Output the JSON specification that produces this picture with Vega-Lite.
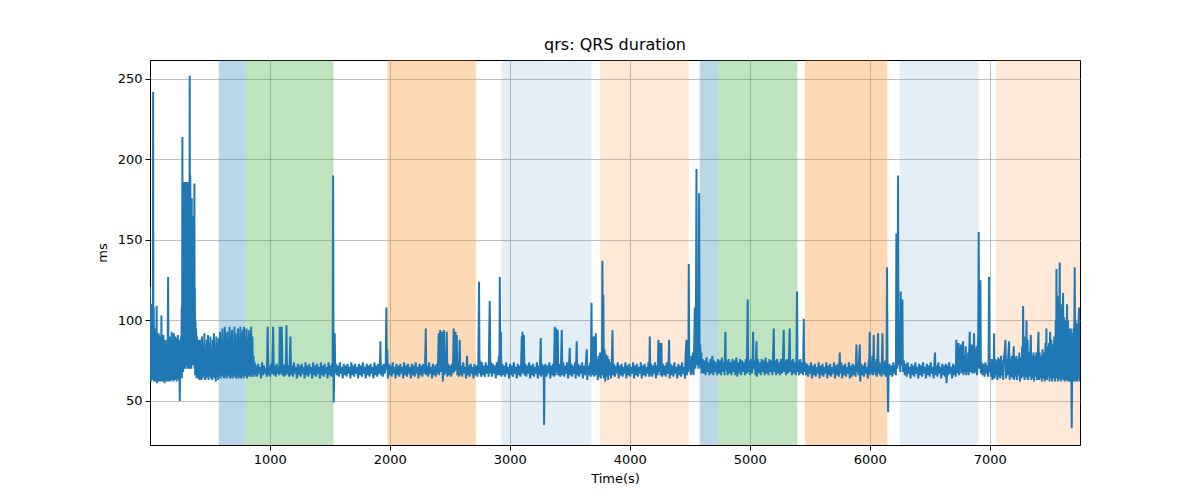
{
  "$schema": "https://vega.github.io/schema/vega-lite/v6.json",
  "width": 930,
  "height": 385,
  "autosize": "none",
  "padding": {"left": 150, "top": 60, "right": 120, "bottom": 55},
  "background": "white",
  "config": {
    "font": "DejaVu Sans",
    "view": {"stroke": "black", "strokeWidth": 1},
    "axis": {
      "labelFont": "DejaVu Sans", "labelFontSize": 13, "labelColor": "black",
      "titleFont": "DejaVu Sans", "titleFontSize": 13, "titleFontWeight": "normal", "titleColor": "black",
      "tickColor": "black", "tickSize": 5, "domainColor": "black",
      "gridColor": "#b0b0b0", "gridWidth": 0.8, "labelPadding": 3
    }
  },
  "title": {"text": "qrs: QRS duration", "fontSize": 16, "fontWeight": "normal", "font": "DejaVu Sans", "color": "black", "offset": 7, "anchor": "middle"},
  "layer": [
    {
      "data": {"values": [
        {"start": 575, "end": 794, "kind": "blue"},
        {"start": 794, "end": 1531, "kind": "green"},
        {"start": 1981, "end": 2717, "kind": "orange"},
        {"start": 2933, "end": 3681, "kind": "lightblue"},
        {"start": 3750, "end": 4492, "kind": "lightorange"},
        {"start": 4583, "end": 4736, "kind": "blue"},
        {"start": 4736, "end": 5397, "kind": "green"},
        {"start": 5458, "end": 6147, "kind": "orange"},
        {"start": 6250, "end": 6906, "kind": "lightblue"},
        {"start": 7050, "end": 7760, "kind": "lightorange"}
      ]},
      "mark": {"type": "rect", "clip": true, "strokeWidth": 0},
      "encoding": {
        "x": {"field": "start", "type": "quantitative"},
        "x2": {"field": "end"},
        "color": {"field": "kind", "type": "nominal", "legend": null,
          "scale": {"domain": ["blue", "green", "orange", "lightblue", "lightorange"],
                    "range": ["rgba(31,119,180,0.3)", "rgba(44,160,44,0.3)", "rgba(255,127,14,0.3)", "rgba(31,119,180,0.12)", "rgba(255,127,14,0.17)"]}}
      }
    },
    {
      "data": {"values": [
        {"t":0,"v":121},{"t":3,"v":64},{"t":6,"v":100},{"t":9,"v":62},{"t":12,"v":90},{"t":15,"v":63},{"t":18,"v":110},{"t":21,"v":65},{"t":24,"v":95},{"t":26,"v":64},{"t":28,"v":242},{"t":30,"v":63},{"t":33,"v":108},{"t":36,"v":62},{"t":39,"v":88},{"t":42,"v":64},{"t":45,"v":95},{"t":48,"v":62},{"t":51,"v":80},{"t":54,"v":64},{"t":57,"v":109},{"t":60,"v":61},{"t":63,"v":85},{"t":66,"v":64},{"t":69,"v":88},{"t":72,"v":62},{"t":75,"v":92},{"t":78,"v":65},{"t":81,"v":78},{"t":84,"v":62},{"t":87,"v":90},{"t":90,"v":64},{"t":93,"v":84},{"t":95,"v":63},{"t":97,"v":103},{"t":99,"v":62},{"t":102,"v":86},{"t":105,"v":65},{"t":108,"v":80},{"t":111,"v":62},{"t":114,"v":91},{"t":117,"v":64},{"t":120,"v":76},{"t":123,"v":61},{"t":126,"v":86},{"t":129,"v":64},{"t":132,"v":88},{"t":135,"v":63},{"t":138,"v":79},{"t":141,"v":62},{"t":144,"v":82},{"t":147,"v":65},{"t":150,"v":90},{"t":153,"v":127},{"t":156,"v":62},{"t":159,"v":86},{"t":162,"v":64},{"t":165,"v":90},{"t":168,"v":63},{"t":171,"v":84},{"t":174,"v":62},{"t":177,"v":88},{"t":180,"v":65},{"t":183,"v":93},{"t":186,"v":63},{"t":189,"v":82},{"t":192,"v":65},{"t":195,"v":88},{"t":198,"v":62},{"t":201,"v":92},{"t":204,"v":66},{"t":207,"v":84},{"t":210,"v":63},{"t":213,"v":90},{"t":216,"v":64},{"t":219,"v":80},{"t":222,"v":89},{"t":225,"v":62},{"t":228,"v":86},{"t":231,"v":65},{"t":234,"v":91},{"t":237,"v":64},{"t":240,"v":84},{"t":243,"v":63},{"t":246,"v":88},{"t":248,"v":66},{"t":250,"v":50},{"t":252,"v":65},{"t":255,"v":85},{"t":258,"v":64},{"t":261,"v":90},{"t":264,"v":66},{"t":266,"v":108},{"t":268,"v":64},{"t":270,"v":100},{"t":272,"v":214},{"t":274,"v":70},{"t":276,"v":150},{"t":278,"v":68},{"t":280,"v":170},{"t":282,"v":72},{"t":284,"v":160},{"t":286,"v":70},{"t":288,"v":186},{"t":290,"v":74},{"t":292,"v":150},{"t":294,"v":72},{"t":296,"v":180},{"t":298,"v":70},{"t":300,"v":165},{"t":302,"v":74},{"t":304,"v":186},{"t":306,"v":72},{"t":308,"v":150},{"t":310,"v":75},{"t":312,"v":172},{"t":314,"v":72},{"t":316,"v":165},{"t":318,"v":70},{"t":320,"v":186},{"t":322,"v":76},{"t":324,"v":150},{"t":326,"v":72},{"t":328,"v":160},{"t":330,"v":70},{"t":333,"v":252},{"t":335,"v":74},{"t":338,"v":190},{"t":340,"v":72},{"t":343,"v":170},{"t":346,"v":70},{"t":350,"v":176},{"t":353,"v":72},{"t":356,"v":150},{"t":358,"v":165},{"t":360,"v":72},{"t":363,"v":140},{"t":366,"v":150},{"t":368,"v":72},{"t":370,"v":130},{"t":372,"v":185},{"t":374,"v":70},{"t":376,"v":120},{"t":378,"v":66},{"t":381,"v":100},{"t":384,"v":66},{"t":387,"v":95},{"t":390,"v":64},{"t":393,"v":90},{"t":396,"v":66},{"t":399,"v":85},{"t":402,"v":64},{"t":405,"v":88},{"t":408,"v":65},{"t":411,"v":84},{"t":414,"v":63},{"t":417,"v":88},
        {"t":420,"v":65},{"t":425,"v":86},{"t":430,"v":63},{"t":435,"v":90},{"t":440,"v":64},{"t":445,"v":84},{"t":450,"v":66},{"t":455,"v":92},{"t":460,"v":63},{"t":465,"v":80},{"t":470,"v":64},{"t":475,"v":88},{"t":480,"v":65},{"t":485,"v":91},{"t":490,"v":63},{"t":495,"v":86},{"t":500,"v":66},{"t":505,"v":90},{"t":510,"v":64},{"t":515,"v":78},{"t":520,"v":63},{"t":525,"v":88},{"t":530,"v":65},{"t":535,"v":92},{"t":540,"v":64},{"t":545,"v":84},{"t":550,"v":62},{"t":555,"v":90},{"t":560,"v":65},{"t":565,"v":86},{"t":570,"v":63},{"t":575,"v":89},{"t":580,"v":66},{"t":585,"v":93},{"t":590,"v":64},{"t":595,"v":88},{"t":600,"v":66},{"t":605,"v":95},{"t":610,"v":65},{"t":615,"v":84},{"t":620,"v":64},{"t":625,"v":96},{"t":630,"v":66},{"t":635,"v":90},{"t":640,"v":64},{"t":645,"v":93},{"t":650,"v":65},{"t":655,"v":88},{"t":660,"v":66},{"t":665,"v":96},{"t":670,"v":64},{"t":675,"v":90},{"t":680,"v":65},{"t":685,"v":94},{"t":690,"v":64},{"t":695,"v":86},{"t":700,"v":66},{"t":705,"v":96},{"t":710,"v":65},{"t":715,"v":92},{"t":720,"v":64},{"t":725,"v":88},{"t":730,"v":66},{"t":735,"v":95},{"t":740,"v":64},{"t":745,"v":90},{"t":750,"v":65},{"t":755,"v":96},{"t":760,"v":64},{"t":765,"v":92},{"t":770,"v":66},{"t":775,"v":94},{"t":780,"v":64},{"t":785,"v":96},{"t":790,"v":65},{"t":795,"v":90},{"t":800,"v":66},{"t":805,"v":95},{"t":810,"v":64},{"t":815,"v":88},{"t":820,"v":66},{"t":825,"v":94},{"t":830,"v":65},{"t":835,"v":92},{"t":840,"v":66},{"t":845,"v":96},{"t":850,"v":65},{"t":855,"v":90},{"t":860,"v":67},{"t":865,"v":78},{"t":870,"v":65},{"t":875,"v":74},
        {"t":880,"v":66},{"t":888,"v":72},{"t":896,"v":65},{"t":904,"v":73},{"t":912,"v":67},{"t":920,"v":71},{"t":928,"v":64},{"t":936,"v":74},{"t":944,"v":66},{"t":952,"v":72},{"t":960,"v":67},{"t":968,"v":70},{"t":976,"v":65},{"t":983,"v":96},{"t":988,"v":66},{"t":996,"v":72},{"t":1004,"v":65},{"t":1012,"v":73},{"t":1020,"v":67},{"t":1028,"v":96},{"t":1034,"v":66},{"t":1042,"v":72},{"t":1050,"v":65},{"t":1058,"v":73},{"t":1066,"v":67},{"t":1074,"v":71},{"t":1080,"v":66},{"t":1083,"v":96},{"t":1088,"v":67},{"t":1094,"v":73},{"t":1100,"v":96},{"t":1106,"v":66},{"t":1112,"v":72},{"t":1120,"v":65},{"t":1128,"v":73},{"t":1134,"v":66},{"t":1139,"v":97},{"t":1144,"v":67},{"t":1152,"v":72},{"t":1160,"v":65},{"t":1166,"v":73},{"t":1172,"v":90},{"t":1178,"v":66},{"t":1186,"v":72},{"t":1194,"v":65},{"t":1202,"v":74},{"t":1210,"v":67},{"t":1218,"v":71},{"t":1226,"v":64},{"t":1234,"v":73},{"t":1242,"v":66},{"t":1250,"v":72},{"t":1258,"v":65},{"t":1266,"v":73},{"t":1274,"v":67},{"t":1282,"v":71},{"t":1290,"v":64},{"t":1298,"v":74},{"t":1306,"v":66},{"t":1314,"v":72},{"t":1322,"v":65},{"t":1330,"v":73},{"t":1338,"v":67},{"t":1346,"v":71},{"t":1354,"v":64},{"t":1362,"v":74},{"t":1370,"v":66},{"t":1378,"v":72},{"t":1386,"v":65},{"t":1394,"v":73},{"t":1402,"v":67},{"t":1410,"v":71},{"t":1418,"v":64},{"t":1426,"v":74},{"t":1434,"v":66},{"t":1442,"v":72},{"t":1450,"v":65},{"t":1458,"v":73},{"t":1466,"v":67},{"t":1474,"v":71},{"t":1482,"v":64},{"t":1490,"v":74},{"t":1498,"v":66},{"t":1506,"v":72},{"t":1514,"v":65},{"t":1520,"v":73},{"t":1524,"v":68},{"t":1528,"v":190},{"t":1531,"v":70},{"t":1533,"v":49},{"t":1537,"v":68},{"t":1541,"v":92},{"t":1546,"v":67},
        {"t":1552,"v":73},{"t":1560,"v":66},{"t":1568,"v":72},{"t":1576,"v":65},{"t":1584,"v":74},{"t":1592,"v":67},{"t":1600,"v":71},{"t":1608,"v":64},{"t":1616,"v":73},{"t":1624,"v":66},{"t":1632,"v":72},{"t":1640,"v":65},{"t":1648,"v":73},{"t":1656,"v":67},{"t":1664,"v":71},{"t":1672,"v":64},{"t":1680,"v":74},{"t":1688,"v":66},{"t":1696,"v":72},{"t":1704,"v":65},{"t":1712,"v":73},{"t":1720,"v":67},{"t":1728,"v":71},{"t":1736,"v":64},{"t":1744,"v":73},{"t":1752,"v":66},{"t":1760,"v":72},{"t":1768,"v":65},{"t":1776,"v":74},{"t":1784,"v":67},{"t":1792,"v":71},{"t":1800,"v":64},{"t":1808,"v":73},{"t":1816,"v":66},{"t":1824,"v":72},{"t":1832,"v":65},{"t":1840,"v":73},{"t":1848,"v":67},{"t":1856,"v":71},{"t":1864,"v":64},{"t":1872,"v":74},{"t":1880,"v":66},{"t":1888,"v":72},{"t":1896,"v":65},{"t":1904,"v":73},{"t":1912,"v":67},{"t":1918,"v":71},{"t":1922,"v":87},{"t":1926,"v":66},{"t":1934,"v":72},{"t":1942,"v":65},{"t":1950,"v":73},{"t":1958,"v":67},{"t":1966,"v":71},{"t":1972,"v":108},{"t":1976,"v":70},{"t":1980,"v":82},{"t":1984,"v":64},{"t":1992,"v":73},{"t":2000,"v":66},{"t":2008,"v":72},{"t":2016,"v":65},{"t":2024,"v":74},{"t":2032,"v":67},{"t":2040,"v":71},{"t":2048,"v":64},{"t":2056,"v":73},{"t":2064,"v":66},{"t":2072,"v":72},{"t":2080,"v":65},{"t":2088,"v":73},{"t":2096,"v":67},{"t":2104,"v":71},{"t":2112,"v":64},{"t":2120,"v":74},{"t":2128,"v":66},{"t":2136,"v":72},{"t":2144,"v":65},{"t":2152,"v":73},{"t":2160,"v":67},{"t":2168,"v":71},{"t":2176,"v":64},{"t":2184,"v":73},{"t":2192,"v":66},{"t":2200,"v":72},{"t":2208,"v":65},{"t":2216,"v":74},{"t":2224,"v":67},{"t":2232,"v":71},{"t":2240,"v":64},{"t":2248,"v":73},{"t":2256,"v":66},{"t":2264,"v":72},{"t":2272,"v":65},{"t":2280,"v":73},{"t":2288,"v":67},{"t":2294,"v":71},{"t":2300,"v":95},{"t":2304,"v":66},{"t":2312,"v":72},{"t":2320,"v":65},{"t":2328,"v":74},{"t":2336,"v":67},{"t":2344,"v":71},{"t":2352,"v":64},{"t":2360,"v":73},{"t":2368,"v":66},{"t":2376,"v":72},{"t":2384,"v":65},{"t":2392,"v":73},{"t":2400,"v":67},{"t":2408,"v":92},{"t":2412,"v":66},{"t":2416,"v":74},{"t":2420,"v":94},{"t":2424,"v":68},{"t":2430,"v":75},{"t":2436,"v":93},{"t":2442,"v":62},{"t":2448,"v":74},{"t":2452,"v":94},{"t":2456,"v":66},{"t":2462,"v":75},{"t":2468,"v":67},{"t":2475,"v":93},{"t":2480,"v":65},{"t":2488,"v":73},{"t":2496,"v":66},{"t":2504,"v":72},{"t":2512,"v":65},{"t":2520,"v":73},{"t":2526,"v":67},{"t":2533,"v":95},{"t":2538,"v":68},{"t":2543,"v":74},{"t":2548,"v":93},{"t":2553,"v":69},{"t":2558,"v":91},{"t":2563,"v":66},{"t":2570,"v":73},{"t":2576,"v":65},{"t":2583,"v":88},{"t":2588,"v":66},{"t":2596,"v":72},{"t":2604,"v":65},{"t":2612,"v":74},{"t":2620,"v":67},{"t":2628,"v":71},{"t":2636,"v":64},{"t":2644,"v":78},{"t":2650,"v":66},{"t":2658,"v":72},{"t":2666,"v":65},{"t":2674,"v":73},{"t":2682,"v":67},{"t":2690,"v":71},{"t":2698,"v":64},
        {"t":2706,"v":73},{"t":2714,"v":66},{"t":2722,"v":72},{"t":2730,"v":65},{"t":2738,"v":74},{"t":2744,"v":124},{"t":2748,"v":67},{"t":2754,"v":75},{"t":2760,"v":65},{"t":2768,"v":74},{"t":2776,"v":66},{"t":2784,"v":72},{"t":2792,"v":65},{"t":2800,"v":74},{"t":2808,"v":67},{"t":2816,"v":72},{"t":2824,"v":65},{"t":2833,"v":112},{"t":2838,"v":67},{"t":2844,"v":74},{"t":2852,"v":65},{"t":2860,"v":73},{"t":2868,"v":67},{"t":2876,"v":72},{"t":2884,"v":64},{"t":2892,"v":74},{"t":2900,"v":66},{"t":2906,"v":75},{"t":2910,"v":78},{"t":2914,"v":66},{"t":2917,"v":127},{"t":2921,"v":70},{"t":2926,"v":93},{"t":2930,"v":65},{"t":2938,"v":73},{"t":2946,"v":66},{"t":2954,"v":72},{"t":2962,"v":65},{"t":2970,"v":74},{"t":2978,"v":67},{"t":2986,"v":71},{"t":2994,"v":64},{"t":3002,"v":73},{"t":3010,"v":66},{"t":3018,"v":72},{"t":3026,"v":65},{"t":3034,"v":74},{"t":3042,"v":67},{"t":3050,"v":71},{"t":3058,"v":64},{"t":3066,"v":73},{"t":3074,"v":66},{"t":3082,"v":72},{"t":3090,"v":65},{"t":3095,"v":74},{"t":3100,"v":90},{"t":3103,"v":67},{"t":3106,"v":93},{"t":3110,"v":68},{"t":3114,"v":72},{"t":3118,"v":91},{"t":3122,"v":66},{"t":3130,"v":73},{"t":3138,"v":65},{"t":3146,"v":72},{"t":3154,"v":67},{"t":3162,"v":74},{"t":3170,"v":64},{"t":3178,"v":72},{"t":3186,"v":66},{"t":3194,"v":73},{"t":3202,"v":65},{"t":3210,"v":71},{"t":3218,"v":67},{"t":3226,"v":74},{"t":3234,"v":64},{"t":3242,"v":72},{"t":3250,"v":66},{"t":3258,"v":89},{"t":3262,"v":65},{"t":3270,"v":73},{"t":3278,"v":66},{"t":3283,"v":72},{"t":3286,"v":35},{"t":3290,"v":68},{"t":3298,"v":73},{"t":3306,"v":65},{"t":3314,"v":72},{"t":3322,"v":67},{"t":3330,"v":74},{"t":3338,"v":64},{"t":3346,"v":72},{"t":3354,"v":66},{"t":3362,"v":73},{"t":3368,"v":65},{"t":3375,"v":96},{"t":3379,"v":70},{"t":3383,"v":66},{"t":3388,"v":95},{"t":3392,"v":68},{"t":3396,"v":74},{"t":3400,"v":94},{"t":3404,"v":66},{"t":3412,"v":73},{"t":3420,"v":65},{"t":3427,"v":72},{"t":3433,"v":94},{"t":3438,"v":66},{"t":3446,"v":74},{"t":3454,"v":65},{"t":3462,"v":72},{"t":3470,"v":67},{"t":3478,"v":74},{"t":3486,"v":64},{"t":3494,"v":72},{"t":3500,"v":83},{"t":3504,"v":66},{"t":3512,"v":73},{"t":3520,"v":65},{"t":3528,"v":72},{"t":3536,"v":67},{"t":3544,"v":74},{"t":3550,"v":64},{"t":3558,"v":87},{"t":3562,"v":66},{"t":3570,"v":73},{"t":3578,"v":65},{"t":3586,"v":72},{"t":3594,"v":67},{"t":3602,"v":74},{"t":3610,"v":64},{"t":3618,"v":72},{"t":3626,"v":66},{"t":3634,"v":73},{"t":3642,"v":82},{"t":3646,"v":63},{"t":3654,"v":72},{"t":3662,"v":66},{"t":3670,"v":74},{"t":3676,"v":65},{"t":3681,"v":111},{"t":3685,"v":68},{"t":3690,"v":76},{"t":3694,"v":66},{"t":3700,"v":90},{"t":3704,"v":65},{"t":3710,"v":78},{"t":3717,"v":92},{"t":3721,"v":66},{"t":3728,"v":76},{"t":3734,"v":63},{"t":3740,"v":78},{"t":3746,"v":65},{"t":3752,"v":80},{"t":3758,"v":64},{"t":3764,"v":76},{"t":3768,"v":66},{"t":3772,"v":137},{"t":3776,"v":70},{"t":3780,"v":116},{"t":3784,"v":64},{"t":3790,"v":82},{"t":3796,"v":62},{"t":3802,"v":79},{"t":3808,"v":65},{"t":3814,"v":78},{"t":3820,"v":63},{"t":3826,"v":76},{"t":3832,"v":66},{"t":3838,"v":74},{"t":3844,"v":64},{"t":3850,"v":73},{"t":3856,"v":94},{"t":3860,"v":66},
        {"t":3868,"v":73},{"t":3876,"v":65},{"t":3884,"v":72},{"t":3892,"v":67},{"t":3900,"v":74},{"t":3908,"v":64},{"t":3916,"v":72},{"t":3924,"v":66},{"t":3932,"v":73},{"t":3940,"v":65},{"t":3948,"v":71},{"t":3956,"v":67},{"t":3964,"v":74},{"t":3972,"v":64},{"t":3980,"v":72},{"t":3988,"v":66},{"t":3996,"v":73},{"t":4004,"v":65},{"t":4012,"v":71},{"t":4020,"v":67},{"t":4028,"v":74},{"t":4036,"v":64},{"t":4044,"v":72},{"t":4052,"v":66},{"t":4060,"v":73},{"t":4068,"v":65},{"t":4076,"v":71},{"t":4084,"v":67},{"t":4092,"v":74},{"t":4100,"v":64},{"t":4108,"v":72},{"t":4116,"v":66},{"t":4124,"v":73},{"t":4132,"v":65},{"t":4140,"v":71},{"t":4148,"v":67},{"t":4156,"v":74},{"t":4162,"v":65},{"t":4167,"v":90},{"t":4171,"v":66},{"t":4178,"v":73},{"t":4186,"v":65},{"t":4194,"v":72},{"t":4202,"v":67},{"t":4210,"v":74},{"t":4218,"v":64},{"t":4226,"v":72},{"t":4232,"v":66},{"t":4239,"v":88},{"t":4243,"v":68},{"t":4248,"v":74},{"t":4252,"v":86},{"t":4256,"v":66},{"t":4260,"v":72},{"t":4264,"v":86},{"t":4268,"v":65},{"t":4276,"v":73},{"t":4284,"v":66},{"t":4292,"v":72},{"t":4300,"v":65},{"t":4308,"v":74},{"t":4316,"v":67},{"t":4322,"v":71},{"t":4328,"v":88},{"t":4332,"v":64},{"t":4340,"v":73},{"t":4348,"v":66},{"t":4356,"v":72},{"t":4364,"v":65},{"t":4372,"v":74},{"t":4380,"v":67},{"t":4388,"v":71},{"t":4396,"v":64},{"t":4404,"v":73},{"t":4412,"v":66},{"t":4420,"v":72},{"t":4428,"v":65},{"t":4436,"v":74},{"t":4444,"v":67},{"t":4452,"v":71},{"t":4460,"v":64},{"t":4466,"v":80},{"t":4472,"v":88},{"t":4476,"v":66},{"t":4482,"v":76},{"t":4488,"v":68},{"t":4492,"v":135},{"t":4496,"v":70},{"t":4502,"v":76},{"t":4508,"v":66},{"t":4514,"v":78},{"t":4520,"v":67},{"t":4526,"v":80},{"t":4532,"v":66},{"t":4537,"v":85},{"t":4542,"v":108},{"t":4546,"v":70},{"t":4551,"v":90},{"t":4556,"v":194},{"t":4560,"v":72},{"t":4564,"v":95},{"t":4568,"v":110},{"t":4572,"v":70},{"t":4575,"v":100},{"t":4578,"v":179},{"t":4582,"v":72},{"t":4587,"v":85},{"t":4592,"v":70},{"t":4596,"v":80},{"t":4600,"v":67},
        {"t":4608,"v":76},{"t":4616,"v":67},{"t":4624,"v":75},{"t":4632,"v":66},{"t":4640,"v":77},{"t":4648,"v":68},{"t":4656,"v":74},{"t":4664,"v":66},{"t":4672,"v":76},{"t":4680,"v":67},{"t":4688,"v":78},{"t":4696,"v":66},{"t":4704,"v":75},{"t":4712,"v":68},{"t":4720,"v":74},{"t":4728,"v":66},{"t":4736,"v":76},{"t":4744,"v":67},{"t":4752,"v":75},{"t":4760,"v":66},{"t":4768,"v":77},{"t":4776,"v":68},{"t":4784,"v":74},{"t":4790,"v":66},{"t":4797,"v":93},{"t":4801,"v":69},{"t":4808,"v":75},{"t":4816,"v":66},{"t":4824,"v":76},{"t":4832,"v":67},{"t":4840,"v":74},{"t":4848,"v":66},{"t":4856,"v":76},{"t":4864,"v":68},{"t":4872,"v":75},{"t":4880,"v":66},{"t":4888,"v":77},{"t":4896,"v":65},{"t":4904,"v":74},{"t":4912,"v":67},{"t":4920,"v":76},{"t":4928,"v":66},{"t":4936,"v":75},{"t":4944,"v":68},{"t":4952,"v":74},{"t":4960,"v":66},{"t":4968,"v":76},{"t":4976,"v":67},{"t":4983,"v":113},{"t":4987,"v":68},{"t":4994,"v":75},{"t":5002,"v":66},{"t":5010,"v":76},{"t":5018,"v":67},{"t":5024,"v":74},{"t":5028,"v":93},{"t":5032,"v":70},{"t":5040,"v":75},{"t":5048,"v":66},{"t":5056,"v":87},{"t":5060,"v":65},{"t":5068,"v":76},{"t":5076,"v":67},{"t":5084,"v":74},{"t":5092,"v":66},{"t":5100,"v":76},{"t":5108,"v":68},{"t":5116,"v":75},{"t":5124,"v":66},{"t":5132,"v":77},{"t":5140,"v":67},{"t":5148,"v":74},{"t":5156,"v":66},{"t":5164,"v":76},{"t":5172,"v":68},{"t":5180,"v":75},{"t":5188,"v":66},{"t":5194,"v":77},{"t":5200,"v":95},{"t":5204,"v":68},{"t":5212,"v":75},{"t":5220,"v":66},{"t":5228,"v":76},{"t":5236,"v":67},{"t":5244,"v":74},{"t":5252,"v":66},{"t":5260,"v":76},{"t":5268,"v":67},{"t":5276,"v":75},{"t":5283,"v":94},{"t":5287,"v":68},{"t":5294,"v":75},{"t":5302,"v":66},{"t":5310,"v":76},{"t":5318,"v":67},{"t":5326,"v":74},{"t":5333,"v":95},{"t":5337,"v":68},{"t":5344,"v":75},{"t":5352,"v":66},{"t":5360,"v":76},{"t":5368,"v":67},{"t":5376,"v":74},{"t":5384,"v":66},{"t":5389,"v":77},{"t":5394,"v":118},{"t":5398,"v":68},{"t":5404,"v":75},{"t":5412,"v":66},{"t":5420,"v":76},{"t":5428,"v":67},{"t":5436,"v":74},{"t":5444,"v":66},{"t":5450,"v":101},{"t":5454,"v":68},
        {"t":5462,"v":74},{"t":5470,"v":66},{"t":5478,"v":73},{"t":5486,"v":65},{"t":5494,"v":72},{"t":5502,"v":67},{"t":5510,"v":74},{"t":5518,"v":64},{"t":5526,"v":72},{"t":5534,"v":66},{"t":5542,"v":73},{"t":5550,"v":65},{"t":5558,"v":71},{"t":5566,"v":67},{"t":5574,"v":74},{"t":5582,"v":64},{"t":5590,"v":72},{"t":5598,"v":66},{"t":5606,"v":73},{"t":5614,"v":65},{"t":5622,"v":71},{"t":5630,"v":67},{"t":5638,"v":74},{"t":5646,"v":64},{"t":5654,"v":72},{"t":5662,"v":66},{"t":5670,"v":73},{"t":5678,"v":65},{"t":5686,"v":71},{"t":5694,"v":67},{"t":5702,"v":74},{"t":5710,"v":64},{"t":5718,"v":72},{"t":5726,"v":66},{"t":5734,"v":73},{"t":5742,"v":65},{"t":5750,"v":80},{"t":5754,"v":67},{"t":5762,"v":74},{"t":5770,"v":64},{"t":5778,"v":72},{"t":5786,"v":66},{"t":5794,"v":73},{"t":5802,"v":65},{"t":5810,"v":71},{"t":5818,"v":67},{"t":5826,"v":74},{"t":5834,"v":64},{"t":5842,"v":72},{"t":5850,"v":65},{"t":5858,"v":73},{"t":5866,"v":66},{"t":5874,"v":72},{"t":5882,"v":65},{"t":5889,"v":85},{"t":5893,"v":68},{"t":5900,"v":74},{"t":5906,"v":66},{"t":5912,"v":78},{"t":5917,"v":85},{"t":5921,"v":62},{"t":5928,"v":73},{"t":5936,"v":66},{"t":5944,"v":72},{"t":5952,"v":65},{"t":5960,"v":74},{"t":5968,"v":67},{"t":5976,"v":71},{"t":5984,"v":64},{"t":5990,"v":74},{"t":5996,"v":76},{"t":6000,"v":93},{"t":6004,"v":66},{"t":6010,"v":74},{"t":6016,"v":67},{"t":6022,"v":78},{"t":6028,"v":66},{"t":6033,"v":91},{"t":6037,"v":68},{"t":6044,"v":74},{"t":6050,"v":66},{"t":6056,"v":76},{"t":6060,"v":65},{"t":6069,"v":92},{"t":6073,"v":67},{"t":6080,"v":74},{"t":6086,"v":66},{"t":6092,"v":73},{"t":6098,"v":65},{"t":6106,"v":92},{"t":6110,"v":67},{"t":6116,"v":74},{"t":6122,"v":66},{"t":6128,"v":75},{"t":6134,"v":65},{"t":6140,"v":72},{"t":6144,"v":133},{"t":6148,"v":70},{"t":6153,"v":43},{"t":6157,"v":68},
        {"t":6164,"v":73},{"t":6172,"v":66},{"t":6180,"v":72},{"t":6188,"v":65},{"t":6196,"v":74},{"t":6204,"v":67},{"t":6212,"v":72},{"t":6218,"v":66},{"t":6222,"v":154},{"t":6226,"v":75},{"t":6230,"v":70},{"t":6236,"v":190},{"t":6240,"v":72},{"t":6246,"v":76},{"t":6250,"v":80},{"t":6254,"v":68},{"t":6258,"v":118},{"t":6262,"v":72},{"t":6267,"v":80},{"t":6272,"v":113},{"t":6276,"v":68},{"t":6284,"v":75},{"t":6292,"v":66},{"t":6300,"v":73},{"t":6308,"v":65},{"t":6316,"v":74},{"t":6324,"v":67},{"t":6332,"v":71},{"t":6340,"v":64},{"t":6348,"v":73},{"t":6356,"v":66},{"t":6364,"v":72},{"t":6372,"v":65},{"t":6380,"v":74},{"t":6388,"v":67},{"t":6396,"v":71},{"t":6404,"v":64},{"t":6412,"v":73},{"t":6420,"v":66},{"t":6428,"v":72},{"t":6436,"v":65},{"t":6444,"v":74},{"t":6452,"v":67},{"t":6460,"v":71},{"t":6468,"v":64},{"t":6476,"v":73},{"t":6484,"v":66},{"t":6492,"v":72},{"t":6500,"v":65},{"t":6508,"v":74},{"t":6516,"v":67},{"t":6524,"v":71},{"t":6532,"v":64},{"t":6538,"v":73},{"t":6544,"v":80},{"t":6548,"v":66},{"t":6556,"v":72},{"t":6564,"v":65},{"t":6572,"v":74},{"t":6580,"v":67},{"t":6588,"v":71},{"t":6596,"v":64},{"t":6604,"v":73},{"t":6612,"v":66},{"t":6620,"v":72},{"t":6628,"v":65},{"t":6634,"v":73},{"t":6640,"v":61},{"t":6646,"v":72},{"t":6654,"v":66},{"t":6662,"v":74},{"t":6670,"v":67},{"t":6678,"v":71},{"t":6686,"v":64},{"t":6694,"v":73},{"t":6702,"v":66},{"t":6710,"v":72},{"t":6716,"v":65},{"t":6722,"v":88},{"t":6726,"v":67},{"t":6732,"v":76},{"t":6740,"v":86},{"t":6744,"v":66},{"t":6752,"v":78},{"t":6760,"v":85},{"t":6764,"v":67},{"t":6770,"v":76},{"t":6778,"v":87},{"t":6782,"v":66},{"t":6788,"v":78},{"t":6794,"v":68},{"t":6800,"v":84},{"t":6804,"v":66},{"t":6810,"v":76},{"t":6816,"v":68},{"t":6820,"v":80},{"t":6824,"v":66},{"t":6828,"v":78},{"t":6833,"v":93},{"t":6837,"v":68},{"t":6842,"v":80},{"t":6850,"v":85},{"t":6854,"v":67},{"t":6860,"v":78},{"t":6864,"v":68},{"t":6869,"v":92},{"t":6873,"v":67},{"t":6878,"v":82},{"t":6884,"v":68},{"t":6890,"v":84},{"t":6894,"v":66},{"t":6898,"v":80},{"t":6904,"v":90},{"t":6908,"v":155},{"t":6912,"v":70},{"t":6917,"v":100},{"t":6922,"v":125},{"t":6926,"v":67},{"t":6932,"v":74},{"t":6940,"v":66},{"t":6948,"v":73},{"t":6956,"v":65},{"t":6964,"v":74},{"t":6972,"v":67},{"t":6980,"v":72},{"t":6986,"v":65},{"t":6990,"v":74},{"t":6994,"v":127},{"t":6998,"v":68},
        {"t":7004,"v":74},{"t":7010,"v":65},{"t":7016,"v":76},{"t":7022,"v":63},{"t":7028,"v":75},{"t":7032,"v":66},{"t":7036,"v":92},{"t":7040,"v":64},{"t":7046,"v":76},{"t":7052,"v":66},{"t":7058,"v":75},{"t":7064,"v":63},{"t":7070,"v":77},{"t":7076,"v":65},{"t":7082,"v":76},{"t":7088,"v":64},{"t":7094,"v":78},{"t":7100,"v":66},{"t":7106,"v":75},{"t":7112,"v":63},{"t":7118,"v":77},{"t":7124,"v":80},{"t":7131,"v":88},{"t":7136,"v":64},{"t":7142,"v":76},{"t":7148,"v":66},{"t":7154,"v":78},{"t":7161,"v":87},{"t":7166,"v":63},{"t":7172,"v":76},{"t":7178,"v":65},{"t":7184,"v":78},{"t":7190,"v":64},{"t":7196,"v":76},{"t":7200,"v":84},{"t":7204,"v":63},{"t":7210,"v":77},{"t":7216,"v":65},{"t":7222,"v":78},{"t":7228,"v":63},{"t":7234,"v":76},{"t":7240,"v":66},{"t":7246,"v":80},{"t":7252,"v":62},{"t":7258,"v":77},{"t":7264,"v":64},{"t":7270,"v":84},{"t":7274,"v":65},{"t":7278,"v":109},{"t":7282,"v":66},{"t":7286,"v":90},{"t":7290,"v":63},{"t":7295,"v":86},{"t":7300,"v":65},{"t":7306,"v":100},{"t":7310,"v":64},{"t":7315,"v":88},{"t":7320,"v":63},{"t":7325,"v":80},{"t":7330,"v":65},{"t":7336,"v":78},{"t":7342,"v":91},{"t":7346,"v":63},{"t":7352,"v":78},{"t":7358,"v":64},{"t":7364,"v":80},{"t":7370,"v":62},{"t":7376,"v":78},{"t":7382,"v":65},{"t":7388,"v":80},{"t":7394,"v":63},{"t":7400,"v":78},{"t":7406,"v":93},{"t":7410,"v":63},{"t":7416,"v":80},{"t":7422,"v":64},{"t":7428,"v":78},{"t":7434,"v":62},{"t":7440,"v":82},{"t":7446,"v":64},{"t":7452,"v":80},{"t":7458,"v":62},{"t":7464,"v":86},{"t":7468,"v":64},{"t":7472,"v":95},{"t":7476,"v":63},{"t":7482,"v":84},{"t":7488,"v":65},{"t":7494,"v":86},{"t":7498,"v":62},{"t":7503,"v":93},{"t":7508,"v":64},{"t":7514,"v":88},{"t":7520,"v":62},{"t":7526,"v":85},{"t":7532,"v":64},{"t":7538,"v":90},{"t":7544,"v":62},{"t":7550,"v":100},{"t":7553,"v":70},{"t":7556,"v":132},{"t":7559,"v":64},{"t":7564,"v":115},{"t":7568,"v":62},{"t":7572,"v":110},{"t":7576,"v":64},{"t":7580,"v":100},{"t":7583,"v":136},{"t":7587,"v":63},{"t":7592,"v":110},{"t":7596,"v":62},{"t":7600,"v":105},{"t":7604,"v":64},{"t":7608,"v":100},{"t":7611,"v":117},{"t":7615,"v":63},{"t":7620,"v":102},{"t":7624,"v":62},{"t":7628,"v":100},{"t":7632,"v":64},{"t":7636,"v":95},{"t":7640,"v":63},{"t":7644,"v":110},{"t":7648,"v":62},{"t":7652,"v":100},{"t":7656,"v":64},{"t":7660,"v":95},{"t":7664,"v":62},{"t":7668,"v":92},{"t":7672,"v":64},{"t":7676,"v":95},{"t":7680,"v":63},{"t":7683,"v":33},{"t":7686,"v":64},{"t":7690,"v":92},{"t":7694,"v":62},{"t":7698,"v":95},{"t":7702,"v":64},{"t":7705,"v":100},{"t":7708,"v":133},{"t":7712,"v":62},{"t":7716,"v":100},{"t":7720,"v":64},{"t":7724,"v":98},{"t":7728,"v":62},{"t":7732,"v":95},{"t":7736,"v":64},{"t":7740,"v":100},{"t":7744,"v":108},{"t":7748,"v":62},{"t":7752,"v":95}
      ]},
      "mark": {"type": "line", "color": "#1f77b4", "strokeWidth": 2, "clip": true},
      "encoding": {
        "x": {"field": "t", "type": "quantitative", "title": "Time(s)",
          "scale": {"domain": [2, 7752], "nice": false, "zero": false},
          "axis": {"values": [1000, 2000, 3000, 4000, 5000, 6000, 7000], "format": "d", "titlePadding": 6}},
        "y": {"field": "v", "type": "quantitative", "title": "ms",
          "scale": {"domain": [22.6, 261.8], "nice": false, "zero": false},
          "axis": {"values": [50, 100, 150, 200, 250], "format": "d", "titlePadding": 8}}
      }
    }
  ]
}
